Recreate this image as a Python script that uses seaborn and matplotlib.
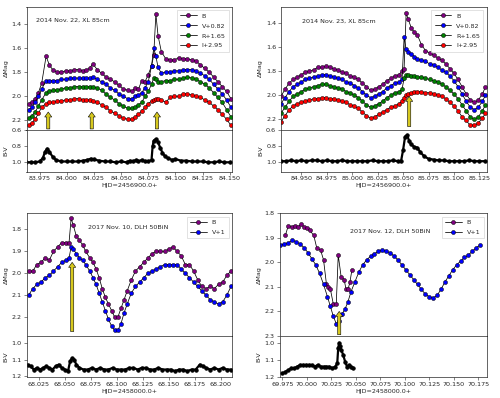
import matplotlib
matplotlib.use("Agg")
import matplotlib.pyplot as plt
from matplotlib.ticker import MultipleLocator, FormatStrFormatter
import seaborn as sns

sns.set_style("ticks")
plt.rcParams['font.family'] = ['DejaVu Sans']

# ---------------- 2014 Nov. 22 (HJD - 2456900) ----------------
t_nov22 = [83.965, 83.968, 83.971, 83.974, 83.977, 83.981, 83.984, 83.987, 83.991, 83.995,
           83.999, 84.003, 84.007, 84.011, 84.015, 84.018, 84.021, 84.024, 84.028, 84.032,
           84.036, 84.040, 84.044, 84.048, 84.052, 84.056, 84.060, 84.063, 84.066, 84.069,
           84.072, 84.075, 84.078, 84.080, 84.082, 84.084, 84.087, 84.091, 84.095, 84.099,
           84.103, 84.107, 84.111, 84.115, 84.119, 84.123, 84.127, 84.131, 84.135, 84.139,
           84.143, 84.147, 84.151]
B_nov22 = [2.06, 2.05, 2.02, 1.97, 1.89, 1.67, 1.74, 1.78, 1.80, 1.80,
           1.79, 1.79, 1.78, 1.78, 1.79, 1.78, 1.77, 1.73, 1.78, 1.81,
           1.84, 1.86, 1.88, 1.91, 1.94, 1.95, 1.96, 1.93, 1.94, 1.87,
           1.88, 1.82, 1.75, 1.66, 1.32, 1.50, 1.63, 1.69, 1.70, 1.70,
           1.68, 1.69, 1.69, 1.70, 1.71, 1.74, 1.77, 1.80, 1.84, 1.88,
           1.92, 1.96, 2.02]
V_nov22 = [2.11, 2.09, 2.05, 2.00, 1.94, 1.87, 1.87, 1.87, 1.87, 1.86,
           1.86, 1.85, 1.85, 1.85, 1.85, 1.85, 1.85, 1.84, 1.86, 1.88,
           1.90, 1.93, 1.95, 1.98, 2.00, 2.02, 2.02, 2.00, 1.99, 1.97,
           1.93, 1.88, 1.75, 1.60, 1.67, 1.76, 1.81, 1.80, 1.80, 1.79,
           1.79, 1.78, 1.78, 1.78, 1.79, 1.81, 1.83, 1.86, 1.90, 1.94,
           1.98, 2.03, 2.09]
R_nov22 = [2.18, 2.16, 2.13, 2.08, 2.03, 1.97, 1.96, 1.95, 1.95, 1.94,
           1.93, 1.93, 1.92, 1.92, 1.92, 1.92, 1.92, 1.92, 1.93, 1.95,
           1.98, 2.01, 2.03, 2.06, 2.08, 2.10, 2.10, 2.09, 2.07, 2.05,
           2.00, 1.96, 1.90, 1.85, 1.86, 1.88, 1.88, 1.87, 1.87, 1.86,
           1.86, 1.85, 1.84, 1.85, 1.86, 1.88, 1.90, 1.93, 1.97, 2.01,
           2.05, 2.11, 2.17]
I_nov22 = [2.24, 2.22, 2.19, 2.14, 2.09, 2.06, 2.05, 2.05, 2.04, 2.04,
           2.03, 2.03, 2.02, 2.02, 2.03, 2.03, 2.03, 2.04, 2.05, 2.07,
           2.09, 2.12, 2.14, 2.16, 2.18, 2.19, 2.19, 2.17, 2.15, 2.12,
           2.09, 2.06, 2.04, 2.03, 2.02, 2.02, 2.03, 2.05, 2.01, 2.00,
           2.00, 1.98, 1.98, 1.99, 2.00, 2.01, 2.03, 2.05, 2.08, 2.11,
           2.15, 2.19, 2.24]
tbv_nov22 = [83.963, 83.967, 83.971, 83.975, 83.978, 83.980, 83.982, 83.984, 83.987, 83.990,
             83.995, 84.000, 84.005, 84.010, 84.015, 84.019, 84.022, 84.025, 84.030, 84.035,
             84.040, 84.045, 84.050, 84.055, 84.058, 84.061, 84.064, 84.066, 84.069, 84.072,
             84.075, 84.078, 84.079, 84.080, 84.082, 84.084, 84.086, 84.088, 84.090, 84.093,
             84.097, 84.100, 84.105, 84.110, 84.115, 84.120, 84.125, 84.130, 84.135, 84.140,
             84.145, 84.150]
bv_nov22 = [1.00, 1.00, 1.00, 0.99, 0.95, 0.87, 0.83, 0.87, 0.93, 0.97,
            0.99, 0.99, 0.99, 0.99, 0.98, 0.97, 0.955, 0.965, 0.98, 0.99,
            0.99, 1.00, 0.99, 1.00, 0.98, 0.99, 0.97, 0.99, 0.97, 0.99,
            0.99, 0.97, 0.80, 0.73, 0.71, 0.75, 0.82, 0.88, 0.92, 0.95,
            0.97, 0.96, 0.98, 0.98, 0.99, 0.99, 0.99, 1.00, 1.00, 0.99,
            1.00, 1.00]
arrows_nov22 = [83.983, 84.023, 84.083]

# ---------------- 2014 Nov. 23 (HJD - 2456900) ----------------
t_nov23 = [84.930, 84.934, 84.938, 84.942, 84.946, 84.950, 84.954, 84.958, 84.962, 84.966,
           84.970, 84.974, 84.978, 84.982, 84.986, 84.990, 84.994, 84.998, 85.002, 85.006,
           85.010, 85.014, 85.018, 85.022, 85.026, 85.030, 85.034, 85.038, 85.042, 85.046,
           85.049, 85.051, 85.053, 85.055, 85.058, 85.061, 85.064, 85.068, 85.072, 85.076,
           85.080, 85.084, 85.088, 85.092, 85.096, 85.100, 85.104, 85.108, 85.112, 85.116,
           85.120, 85.124, 85.128, 85.131]
B_nov23 = [2.01, 1.95, 1.90, 1.87, 1.85, 1.83, 1.81, 1.80, 1.79, 1.77,
           1.77, 1.76, 1.77, 1.78, 1.79, 1.81, 1.82, 1.84, 1.85, 1.87,
           1.90, 1.93, 1.96, 1.95, 1.93, 1.91, 1.88, 1.86, 1.84, 1.83,
           1.80, 1.78, 1.32, 1.37, 1.44, 1.48, 1.50, 1.58, 1.63, 1.65,
           1.67, 1.69, 1.71, 1.74, 1.78, 1.82, 1.87, 1.93, 1.99, 2.04,
           2.06, 2.04, 1.99, 1.93]
V_nov23 = [2.07, 2.02, 1.97, 1.93, 1.91, 1.89, 1.87, 1.86, 1.85, 1.84,
           1.83, 1.83, 1.84, 1.85, 1.86, 1.87, 1.89, 1.90, 1.92, 1.94,
           1.97, 2.00, 2.02, 2.01, 1.99, 1.97, 1.94, 1.92, 1.90, 1.89,
           1.87, 1.52, 1.62, 1.64, 1.66, 1.68, 1.70, 1.71, 1.72, 1.74,
           1.75, 1.77, 1.79, 1.81, 1.84, 1.88, 1.93, 1.99, 2.05, 2.10,
           2.12, 2.10, 2.05, 2.00]
R_nov23 = [2.15, 2.10, 2.05, 2.01, 1.99, 1.97, 1.95, 1.94, 1.93, 1.92,
           1.91, 1.91, 1.92, 1.93, 1.94, 1.95, 1.97, 1.98, 2.00, 2.02,
           2.05, 2.08, 2.10, 2.09, 2.07, 2.05, 2.02, 2.00, 1.98, 1.97,
           1.95, 1.86, 1.83, 1.83, 1.84, 1.84, 1.85, 1.85, 1.86, 1.87,
           1.88, 1.89, 1.91, 1.93, 1.96, 1.99, 2.03, 2.08, 2.13, 2.18,
           2.20, 2.18, 2.13, 2.08]
I_nov23 = [2.22, 2.17, 2.12, 2.09, 2.07, 2.06, 2.05, 2.04, 2.03, 2.03,
           2.02, 2.02, 2.03, 2.03, 2.04, 2.05, 2.06, 2.08, 2.09, 2.11,
           2.14, 2.17, 2.19, 2.18, 2.16, 2.14, 2.12, 2.10, 2.09, 2.07,
           2.05, 2.02, 2.00, 1.99, 1.98, 1.97, 1.97, 1.97, 1.98, 1.98,
           1.99, 2.00, 2.01, 2.03, 2.06, 2.09, 2.13, 2.18, 2.21, 2.25,
           2.25, 2.23, 2.19, 2.15]
tbv_nov23 = [84.930, 84.935, 84.940, 84.945, 84.950, 84.955, 84.960, 84.965, 84.970, 84.975,
             84.980, 84.985, 84.990, 84.995, 85.000, 85.005, 85.010, 85.015, 85.020, 85.025,
             85.030, 85.035, 85.040, 85.045, 85.048, 85.050, 85.052, 85.054, 85.056, 85.058,
             85.061, 85.064, 85.067, 85.071, 85.075, 85.080, 85.085, 85.090, 85.095, 85.100,
             85.105, 85.110, 85.115, 85.120, 85.125, 85.131]
bv_nov23 = [0.99, 0.99, 0.98, 0.99, 0.98, 0.99, 0.98, 0.98, 0.99, 0.98,
            0.99, 0.99, 0.98, 0.99, 0.99, 0.99, 0.99, 0.99, 0.98, 0.99,
            0.99, 0.99, 0.98, 0.99, 0.99, 0.85, 0.68, 0.66, 0.74, 0.78,
            0.81, 0.82, 0.88, 0.93, 0.96, 0.97, 0.98, 0.98, 0.99, 0.99,
            0.99, 0.99, 0.98, 0.99, 0.99, 0.99]
arrows_nov23 = [85.056]

# ---------------- 2017 Nov. 10 (HJD - 2458000) ----------------
t_nov10 = [68.015, 68.019, 68.023, 68.027, 68.031, 68.035, 68.039, 68.043, 68.047, 68.051,
           68.054, 68.056, 68.058, 68.061, 68.064, 68.067, 68.070, 68.074, 68.077, 68.080,
           68.083, 68.086, 68.089, 68.092, 68.095, 68.098, 68.101, 68.104, 68.107, 68.110,
           68.114, 68.118, 68.122, 68.126, 68.130, 68.134, 68.138, 68.142, 68.146, 68.150,
           68.154, 68.158, 68.162, 68.166, 68.170, 68.174, 68.178, 68.182, 68.186, 68.190,
           68.194, 68.198, 68.202, 68.206, 68.210]
B_nov10 = [1.99, 1.99, 1.96, 1.95, 1.93, 1.94, 1.90, 1.88, 1.86, 1.86,
           1.86, 1.75, 1.78, 1.83, 1.85, 1.87, 1.90, 1.93, 1.95, 1.98,
           2.02, 2.07, 2.11, 2.14, 2.17, 2.20, 2.20, 2.16, 2.12, 2.08,
           2.03, 1.99, 1.97, 1.95, 1.93, 1.91, 1.90, 1.90, 1.90, 1.89,
           1.88, 1.90, 1.92, 1.96, 1.96, 1.99, 2.03, 2.06, 2.07, 2.06,
           2.07, 2.05, 2.04, 2.01, 1.99]
V_nov10 = [2.10, 2.07, 2.05, 2.04, 2.02, 2.01, 1.99, 1.97, 1.95, 1.94,
           1.93, 1.88, 1.89, 1.91, 1.93, 1.94, 1.96, 1.99, 2.02, 2.05,
           2.09, 2.13, 2.17, 2.21, 2.24, 2.26, 2.26, 2.23, 2.18, 2.14,
           2.09, 2.06, 2.04, 2.02, 2.00, 1.99, 1.98, 1.97, 1.96, 1.96,
           1.96, 1.96, 1.98, 2.00, 2.02, 2.04, 2.06, 2.08, 2.10, 2.12,
           2.13, 2.14, 2.13, 2.10, 2.06]
tbv_nov10 = [68.014, 68.017, 68.020, 68.023, 68.026, 68.029, 68.032, 68.035, 68.038, 68.041,
             68.044, 68.047, 68.050, 68.053, 68.055, 68.057, 68.059, 68.061, 68.064, 68.068,
             68.072, 68.076, 68.080, 68.084, 68.088, 68.092, 68.096, 68.100, 68.104, 68.108,
             68.112, 68.116, 68.120, 68.124, 68.128, 68.132, 68.136, 68.140, 68.144, 68.148,
             68.152, 68.156, 68.160, 68.164, 68.168, 68.172, 68.176, 68.180, 68.183, 68.186,
             68.190, 68.194, 68.198, 68.202, 68.206, 68.210]
bv_nov10 = [1.13, 1.14, 1.16, 1.15, 1.16, 1.15, 1.14, 1.15, 1.16, 1.14,
            1.13, 1.15, 1.16, 1.17, 1.11, 1.09, 1.10, 1.13, 1.15, 1.16,
            1.16, 1.15, 1.16, 1.15, 1.16, 1.16, 1.15, 1.16, 1.16, 1.16,
            1.15, 1.15, 1.16, 1.15, 1.15, 1.16, 1.16, 1.15, 1.16, 1.16,
            1.16, 1.17, 1.16, 1.16, 1.17, 1.16, 1.16, 1.13, 1.14, 1.15,
            1.16, 1.15, 1.16, 1.15, 1.16, 1.16]
arrows_nov10 = [68.057]

# ---------------- 2017 Nov. 12 (HJD - 2458000) ----------------
tB_nov12 = [69.978, 69.981, 69.985, 69.988, 69.991, 69.994, 69.997, 70.000, 70.003, 70.007,
            70.010, 70.014, 70.017, 70.020, 70.022, 70.024, 70.027, 70.030, 70.032, 70.035,
            70.038, 70.040, 70.042, 70.044, 70.046]
B_nov12 = [1.89, 1.85, 1.855, 1.85, 1.855, 1.845, 1.855, 1.86, 1.87, 1.89,
           1.94, 1.95, 1.99, 2.09, 2.10, 2.11, 2.17, 2.17, 1.97, 2.06,
           2.07, 2.11, 2.11, 2.08, 2.03]
tV_nov12 = [69.973, 69.977, 69.981, 69.985, 69.989, 69.993, 69.997, 70.001, 70.005, 70.009,
            70.013, 70.017, 70.021, 70.024, 70.027, 70.030, 70.033, 70.036, 70.039, 70.042,
            70.045, 70.049, 70.053, 70.057, 70.061, 70.065, 70.069, 70.073, 70.077, 70.081,
            70.085, 70.089, 70.093, 70.097, 70.101, 70.105, 70.109, 70.113, 70.117, 70.121,
            70.125, 70.129, 70.133, 70.137, 70.141, 70.145, 70.149, 70.153, 70.157, 70.161,
            70.165, 70.169, 70.173, 70.177]
V_nov12 = [1.93, 1.925, 1.92, 1.91, 1.915, 1.925, 1.94, 1.96, 1.985, 2.01,
           2.045, 2.09, 2.14, 2.18, 2.22, 2.25, 2.24, 2.21, 2.19, 2.16,
           2.12, 2.08, 2.04, 2.01, 1.99, 1.975, 1.965, 1.955, 1.95, 1.955,
           1.96, 1.975, 1.99, 2.01, 2.03, 2.05, 2.07, 2.09, 2.11, 2.13,
           2.14, 2.145, 2.135, 2.11, 2.08, 2.055, 2.03, 2.01, 1.995, 1.98,
           1.97, 1.955, 1.94, 1.93]
tbv_nov12 = [69.975, 69.978, 69.981, 69.984, 69.987, 69.990, 69.993, 69.996, 69.999, 70.002,
             70.005, 70.008, 70.011, 70.014, 70.017, 70.020, 70.023, 70.026, 70.029, 70.031,
             70.032, 70.033, 70.034, 70.035, 70.037, 70.039, 70.041, 70.043, 70.045, 70.047]
bv_nov12 = [1.18, 1.17, 1.16, 1.15, 1.15, 1.14, 1.13, 1.13, 1.13, 1.13,
            1.13, 1.14, 1.13, 1.14, 1.14, 1.14, 1.14, 1.15, 1.14, 1.12,
            1.03, 1.00, 1.02, 1.04, 1.07, 1.11, 1.14, 1.13, 1.14, 1.15]
arrows_nov12 = [70.033]

FS = 4.6
ARROW_COLOR = "#d6c81e"


def draw_series(ax, t, mag, color, label):
    sns.lineplot(x=t, y=mag, ax=ax, color="k", linewidth=0.55, marker="o",
                 markersize=2.9, markerfacecolor=color, markeredgecolor="k",
                 markeredgewidth=0.35, label=label, sort=False, legend=False)


def draw_arrows(ax, xs, base, tip):
    for x in xs:
        ax.annotate("", xy=(x, tip), xytext=(x, base),
                    arrowprops=dict(arrowstyle="simple,head_length=0.6,head_width=0.85,tail_width=0.38",
                                    fc=ARROW_COLOR, ec="k", lw=0.4, mutation_scale=6,
                                    shrinkA=0, shrinkB=0))


def style_axes(ax):
    for s in ax.spines.values():
        s.set_linewidth(0.5)
    ax.tick_params(labelsize=FS, width=0.4, length=2, pad=1.5)


def panel(fig, rect_main, rect_sub, series, bv_t, bv, xlim, ylim, bvlim,
          ystep, bvstep, xlabel, title, title_xy, arrows, arrow_base, arrow_tip):
    ax = fig.add_axes(rect_main)
    axb = fig.add_axes(rect_sub, sharex=ax)
    for t, mag, color, label in series:
        draw_series(ax, t, mag, color, label)
    draw_arrows(ax, arrows, arrow_base, arrow_tip)
    ax.set_xlim(*xlim)
    ax.set_ylim(*ylim)
    ax.yaxis.set_major_locator(MultipleLocator(ystep))
    ax.yaxis.set_major_formatter(FormatStrFormatter("%.1f"))
    ax.set_ylabel("ΔMag", fontsize=FS, labelpad=2)
    ax.tick_params(labelbottom=False)
    ax.text(title_xy[0], title_xy[1], title, transform=ax.transAxes,
            fontsize=FS, va="center", ha="left")
    leg = ax.legend(loc="upper right", fontsize=FS, handlelength=2.6,
                    borderpad=0.5, labelspacing=0.7, handletextpad=0.8,
                    fancybox=False, framealpha=1, edgecolor="#cccccc")
    leg.get_frame().set_linewidth(0.4)
    style_axes(ax)

    sns.lineplot(x=bv_t, y=bv, ax=axb, color="k", linewidth=1.6, marker="o",
                 markersize=2.4, markeredgecolor="k", sort=False)
    axb.set_ylim(*bvlim)
    axb.yaxis.set_major_locator(MultipleLocator(bvstep))
    axb.yaxis.set_major_formatter(FormatStrFormatter("%.1f"))
    axb.xaxis.set_major_locator(MultipleLocator(0.025))
    axb.xaxis.set_major_formatter(FormatStrFormatter("%.3f"))
    axb.set_ylabel("B-V", fontsize=FS, labelpad=2)
    axb.set_xlabel(xlabel, fontsize=FS, labelpad=1.5)
    style_axes(axb)


fig = plt.figure(figsize=(5.0, 3.98), dpi=100)

panel(fig, [0.053, 0.673, 0.411, 0.310], [0.053, 0.569, 0.411, 0.104],
      [(t_nov22, B_nov22, "purple", "B"), (t_nov22, V_nov22, "blue", "V+0.82"),
       (t_nov22, R_nov22, "green", "R+1.65"), (t_nov22, I_nov22, "red", "I+2.95")],
      tbv_nov22, bv_nov22, (83.963, 84.152), (2.28, 1.26), (1.115, 0.6), 0.2, 0.2,
      "HJD=2456900.0+", "2014 Nov. 22, XL 85cm", (0.047, 0.89),
      arrows_nov22, 2.27, 2.13)

panel(fig, [0.562, 0.673, 0.411, 0.310], [0.562, 0.569, 0.411, 0.104],
      [(t_nov23, B_nov23, "purple", "B"), (t_nov23, V_nov23, "blue", "V+0.82"),
       (t_nov23, R_nov23, "green", "R+1.65"), (t_nov23, I_nov23, "red", "I+2.95")],
      tbv_nov23, bv_nov23, (84.930, 85.132), (2.29, 1.267), (1.12, 0.6), 0.2, 0.2,
      "HJD=2456900.0+", "2014 Nov. 23, XL 85cm", (0.10, 0.886),
      arrows_nov23, 2.26, 2.01)

panel(fig, [0.053, 0.156, 0.411, 0.308], [0.053, 0.053, 0.411, 0.103],
      [(t_nov10, B_nov10, "purple", "B"), (t_nov10, V_nov10, "blue", "V+1")],
      tbv_nov10, bv_nov10, (68.013, 68.211), (2.285, 1.727), (1.205, 0.955), 0.1, 0.1,
      "HJD=2458000.0+", "2017 Nov. 10, DLH 50BiN", (0.30, 0.89),
      arrows_nov10, 2.265, 1.95)

panel(fig, [0.559, 0.156, 0.415, 0.308], [0.559, 0.053, 0.415, 0.103],
      [(tB_nov12, B_nov12, "purple", "B"), (tV_nov12, V_nov12, "blue", "V+1")],
      tbv_nov12, bv_nov12, (69.972, 70.184), (2.3, 1.8), (1.2, 0.96), 0.1, 0.1,
      "HJD=2458000.0+", "2017 Nov. 12, DLH 50BiN", (0.338, 0.856),
      arrows_nov12, 2.295, 2.20)

fig.savefig("out.png", dpi=100)
